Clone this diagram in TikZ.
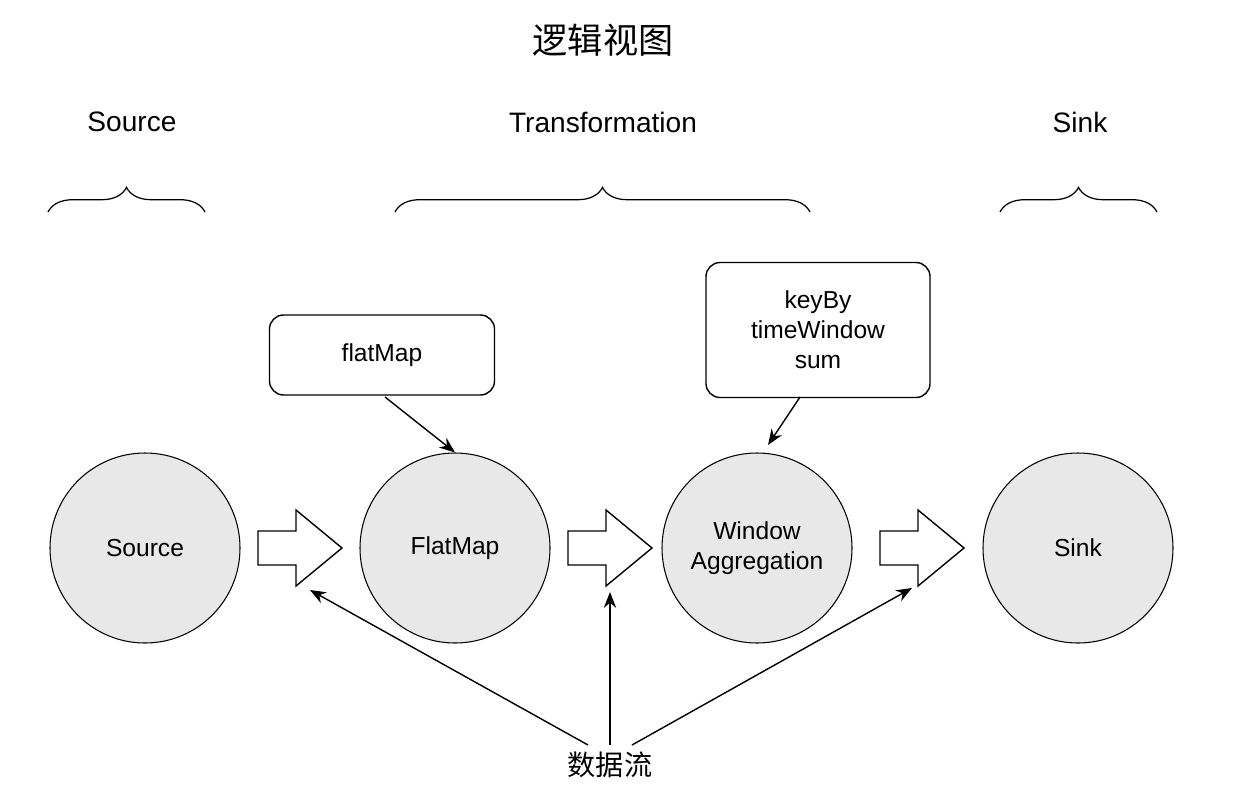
\documentclass[tikz,border=0pt]{standalone}
\usepackage{fontspec}
\setmainfont{Liberation Sans}
\newfontfamily\cjk{Noto Sans CJK SC}
\usetikzlibrary{decorations.pathreplacing,arrows.meta}
\begin{document}
\begin{tikzpicture}[x=0.02cm,y=-0.02cm,
  circ/.style={circle,draw,line width=0.6pt,fill=gray!18,minimum size=190*0.02cm,inner sep=0pt,font=\fontsize{14}{17}\selectfont,align=center},
  box/.style={draw,line width=0.8pt,rounded corners=8pt,font=\fontsize{14}{17}\selectfont,align=center,inner sep=0pt},
  head/.style={font=\fontsize{16}{19}\selectfont},
  br/.style={decorate,decoration={brace,amplitude=14pt},line width=0.7pt},
  arr/.style={-{Stealth[length=9pt,width=7pt]},line width=0.8pt}]
\useasboundingbox (0,0) rectangle (1247,788);
\node[font=\cjk\fontsize{20}{24}\selectfont] (title) at (603,40) {逻辑视图};
\node[head] (lsrc) at (132,122) {Source};
\node[head] (ltr) at (603,122) {Transformation};
\node[head] (lsink) at (1080,122) {Sink};
\draw[br] (48,212) -- (205,212);
\draw[br] (395,212) -- (810,212);
\draw[br] (1000,212) -- (1157,212);
\node[circ] (src) at (145,548) {Source};
\node[circ] (fm) at (455,548) {FlatMap};
\node[circ] (win) at (757,548) {Window\\Aggregation};
\node[circ] (sink) at (1078,548) {Sink};
\node[box,minimum width=225*0.02cm,minimum height=80*0.02cm] (bfm) at (382,355) {flatMap};
\node[box,minimum width=224*0.02cm,minimum height=135*0.02cm] (bkb) at (818,330) {keyBy\\timeWindow\\sum};
\draw[arr] (385,397) -- (fm.north);
\draw[arr] (800,397) -- (768,445);
\foreach \x in {258,568,880}{
  \draw[line width=0.8pt,fill=white] (\x,531) -- (\x+38,531) -- (\x+38,510) -- (\x+84,548) -- (\x+38,586) -- (\x+38,565) -- (\x,565) -- cycle;
}
\node[font=\cjk\fontsize{16}{19}\selectfont] (flow) at (610,765) {数据流};
\coordinate (a1) at (310,590);
\coordinate (a2) at (610,592);
\coordinate (a3) at (912,588);
\draw[arr] (588,745) -- (a1);
\draw[arr] (610,745) -- (a2);
\draw[arr] (632,745) -- (a3);
\end{tikzpicture}
\end{document}
